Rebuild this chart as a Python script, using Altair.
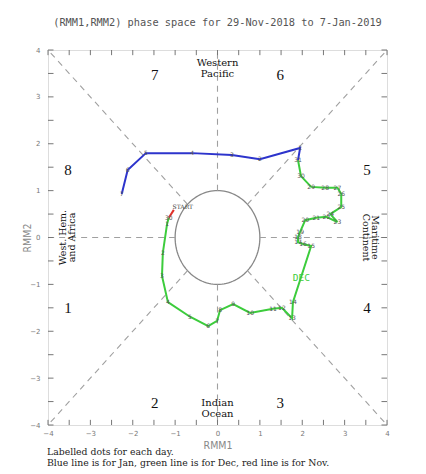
import altair as alt
import pandas as pd
import numpy as np

# ---------------- data ----------------
nov_days = [29, 30]
nov_x = [-1.03, -1.15]
nov_y = [0.59, 0.42]

dec_days = list(range(1, 32))
dec_x = [-1.19, -1.29, -1.31, -1.17, -0.65, -0.22, -0.01, 0.06, 0.37, 0.77,
         1.31, 1.52, 1.76, 1.78, 2.21, 2.02, 1.90, 1.90, 1.95, 2.07,
         2.33, 2.57, 2.83, 2.66, 2.92, 2.92, 2.83, 2.54, 2.21, 1.97, 1.90]
dec_y = [0.29, -0.33, -0.82, -1.38, -1.69, -1.89, -1.78, -1.55, -1.42, -1.61,
         -1.52, -1.50, -1.72, -1.38, -0.18, -0.14, -0.10, 0.01, 0.12, 0.37,
         0.42, 0.44, 0.33, 0.50, 0.65, 0.93, 1.06, 1.06, 1.08, 1.31, 1.65]

jan_days = [1, 2, 3, 4, 5, 6, 7]
jan_x = [1.95, 1.00, 0.34, -0.60, -1.69, -2.12, -2.26]
jan_y = [1.91, 1.67, 1.76, 1.80, 1.80, 1.44, 0.93]

axis_values = [-4, -3, -2, -1, 0, 1, 2, 3, 4]
tick_positions = [-4, -3.5, -3, -2.5, -2, -1.5, -1, -0.5, 0, 0.5, 1, 1.5, 2, 2.5, 3, 3.5, 4]

phase_labels = ["1", "2", "3", "4", "5", "6", "7", "8"]
phase_x = [-3.53, -1.48, 1.48, 3.53, 3.53, 1.48, -1.48, -3.53]
phase_y = [-1.50, -3.53, -3.53, -1.50, 1.45, 3.46, 3.46, 1.45]

region_h_text = ["Western", "Pacific", "Indian", "Ocean"]
region_h_x = [0, 0, 0, 0]
region_h_y = [3.72, 3.49, -3.53, -3.76]

region_l_text = ["West. Hem.", "and Africa"]
region_l_x = [-3.65, -3.44]
region_r_text = ["Maritime", "Continent"]
region_r_x = [3.72, 3.50]

title_text = "(RMM1,RMM2) phase space for 29-Nov-2018 to  7-Jan-2019"
foot1 = "Labelled dots for each day."
foot2 = "Blue line is for Jan, green line is for Dec, red line is for Nov."

# ---------------- tables ----------------
xs = alt.Scale(domain=[-4, 4], nice=False, zero=False)
ys = alt.Scale(domain=[-4, 4], nice=False, zero=False)

rows = []
seg_nov = list(zip(nov_x, nov_y))
seg_dec = [(nov_x[-1], nov_y[-1])] + list(zip(dec_x, dec_y))
seg_jan = [(dec_x[-1], dec_y[-1])] + list(zip(jan_x, jan_y))
for name, seg in [("Nov", seg_nov), ("Dec", seg_dec), ("Jan", seg_jan)]:
    for i, (a, b) in enumerate(seg):
        rows.append({"x": a, "y": b, "month": name, "o": i})
traj = pd.DataFrame(rows)

labels = pd.DataFrame({
    "x": nov_x[1:] + dec_x + jan_x,
    "y": nov_y[1:] + dec_y + jan_y,
    "t": [str(d) for d in nov_days[1:] + dec_days + jan_days],
})

ang = np.linspace(0, 2 * np.pi, 121)
circle = pd.DataFrame({"x": np.cos(ang), "y": np.sin(ang), "o": np.arange(121)})

r = 0.7071
dashed = pd.DataFrame({
    "x": [0, 0, 1, -1, r, -r, r, -r],
    "y": [1, -1, 0, 0, r, r, -r, -r],
    "x2": [0, 0, 4, -4, 4, -4, 4, -4],
    "y2": [4, -4, 0, 0, 4, 4, -4, -4],
})

tk = []
for p in tick_positions:
    tk.append({"x": p, "x2": p, "y": -4, "y2": -3.89})
    tk.append({"x": p, "x2": p, "y": 4, "y2": 3.89})
    tk.append({"x": -4, "x2": -3.87, "y": p, "y2": p})
    tk.append({"x": 4, "x2": 3.87, "y": p, "y2": p})
ticks = pd.DataFrame(tk)

phases = pd.DataFrame({"x": phase_x, "y": phase_y, "t": phase_labels})
reg_h = pd.DataFrame({"x": region_h_x, "y": region_h_y, "t": region_h_text})
reg_l = pd.DataFrame({"x": region_l_x, "y": [0, 0], "t": region_l_text})
reg_r = pd.DataFrame({"x": region_r_x, "y": [0, 0], "t": region_r_text})

# ---------------- encodings ----------------
title_font = "DejaVu Sans Condensed, DejaVu Sans"
xaxis = alt.Axis(values=axis_values, ticks=False, domain=False, grid=False,
                 labelFontSize=7, labelColor="#777", labelFont="DejaVu Sans",
                 labelPadding=4, title="RMM1", titleFontSize=10.5,
                 titleColor="#888", titleFont=title_font, titleFontWeight="normal",
                 titlePadding=4, labelFlush=False)
yaxis = alt.Axis(values=axis_values, ticks=False, domain=False, grid=False,
                 labelFontSize=7, labelColor="#777", labelFont="DejaVu Sans",
                 labelPadding=8, title="RMM2", titleFontSize=10.5,
                 titleColor="#888", titleFont=title_font, titleFontWeight="normal",
                 titleX=-21, titleY=187.5, titleAlign="center", titleBaseline="middle",
                 titleAngle=270, labelFlush=False)

X = alt.X("x:Q", scale=xs, axis=xaxis)
Y = alt.Y("y:Q", scale=ys, axis=yaxis)

circ = alt.Chart(circle).mark_line(color="#888", strokeWidth=1.3).encode(
    x=X, y=Y, order="o:Q")

dash = alt.Chart(dashed).mark_rule(color="#a0a0a0", strokeWidth=1.1, strokeDash=[6, 5]).encode(
    x=X, x2="x2:Q", y=Y, y2="y2:Q")

tick_layer = alt.Chart(ticks).mark_rule(color="#777", strokeWidth=1).encode(
    x=X, x2="x2:Q", y=Y, y2="y2:Q")

lines = alt.Chart(traj).mark_line(strokeWidth=2).encode(
    x=X, y=Y,
    color=alt.Color("month:N", legend=None,
                    scale=alt.Scale(domain=["Nov", "Dec", "Jan"],
                                    range=["#e0302a", "#3ccc3c", "#2d34cc"])),
    detail="month:N",
    order="o:Q",
)

lab = alt.Chart(labels).mark_text(fontSize=6, color="#555", font="DejaVu Sans").encode(
    x=X, y=Y, text="t:N")

start = alt.Chart(pd.DataFrame({"x": [nov_x[0]], "y": [nov_y[0]], "t": ["START"]})).mark_text(
    fontSize=6, color="#444", font="DejaVu Serif", dx=9, dy=-3
).encode(x=X, y=Y, text="t:N")

dec_lab = alt.Chart(pd.DataFrame({"x": [1.98], "y": [-0.87], "t": ["DEC"]})).mark_text(
    fontSize=9.5, color="#3ccc3c", font="DejaVu Sans Mono"
).encode(x=X, y=Y, text="t:N")

ph = alt.Chart(phases).mark_text(fontSize=15, color="#111", font="Liberation Serif").encode(
    x=X, y=Y, text="t:N")

rh = alt.Chart(reg_h).mark_text(fontSize=10, color="#111", font="DejaVu Serif").encode(
    x=X, y=Y, text="t:N")

rl = alt.Chart(reg_l).mark_text(fontSize=9.5, color="#111", font="DejaVu Serif", angle=270).encode(
    x=X, y=Y, text="t:N")

rr = alt.Chart(reg_r).mark_text(fontSize=9.5, color="#111", font="DejaVu Serif", angle=90).encode(
    x=X, y=Y, text="t:N")

f1 = alt.Chart(pd.DataFrame({"t": [foot1]})).mark_text(
    fontSize=9.3, color="#222", font="DejaVu Serif", align="left", baseline="middle"
).encode(x=alt.value(-1), y=alt.value(402), text="t:N")
f2 = alt.Chart(pd.DataFrame({"t": [foot2]})).mark_text(
    fontSize=9.3, color="#222", font="DejaVu Serif", align="left", baseline="middle"
).encode(x=alt.value(-1), y=alt.value(413), text="t:N")

chart = alt.layer(
    circ, dash, tick_layer, lines, lab, start, dec_lab, ph, rh, rl, rr, f1, f2
).properties(
    width=339, height=375,
    title=alt.TitleParams(title_text, font="DejaVu Sans Mono", fontSize=10.3,
                          color="#555", fontWeight="normal", anchor="middle", offset=18),
    autosize=alt.AutoSizeParams(type="none"),
    padding={"left": 40, "top": 42, "right": 30, "bottom": 48},
).configure_view(stroke="#888", strokeWidth=1).configure(background="white")

chart.save("out.html", embed_options={"renderer": "svg", "actions": False})
